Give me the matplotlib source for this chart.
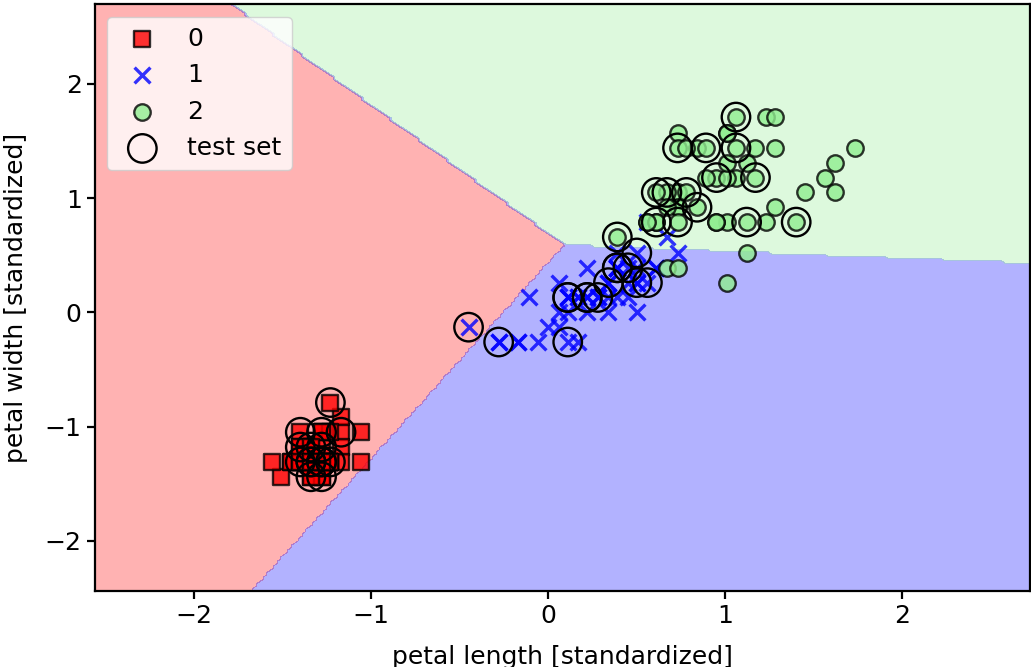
import numpy as np
import matplotlib
matplotlib.use('Agg')
import matplotlib.pyplot as plt
from matplotlib.colors import ListedColormap

# standardized petal length / petal width per class
x0 = [-1.34, -1.34, -1.40, -1.28, -1.34, -1.17, -1.34, -1.28, -1.34, -1.28,
      -1.28, -1.23, -1.34, -1.51, -1.45, -1.28, -1.40, -1.34, -1.17, -1.28,
      -1.17, -1.28, -1.56, -1.17, -1.06, -1.23, -1.23, -1.28, -1.34, -1.23,
      -1.23, -1.28, -1.28, -1.34, -1.28, -1.45, -1.40, -1.34, -1.40, -1.28,
      -1.40, -1.40, -1.40, -1.23, -1.06, -1.34, -1.23, -1.34, -1.28, -1.34]
y0 = [-1.31, -1.31, -1.31, -1.31, -1.31, -1.05, -1.18, -1.31, -1.31, -1.44,
      -1.31, -1.31, -1.44, -1.44, -1.31, -1.05, -1.05, -1.18, -1.18, -1.18,
      -1.31, -1.05, -1.31, -0.92, -1.31, -1.31, -1.05, -1.31, -1.31, -1.31,
      -1.31, -1.05, -1.44, -1.31, -1.31, -1.31, -1.31, -1.44, -1.31, -1.31,
      -1.18, -1.18, -1.31, -0.79, -1.05, -1.18, -1.31, -1.31, -1.31, -1.31]

x1 = [0.50, 0.39, 0.61, 0.11, 0.45, 0.39, 0.50, -0.28, 0.45, 0.06,
      -0.17, 0.22, 0.11, 0.50, -0.11, 0.34, 0.39, 0.17, 0.39, 0.06,
      0.56, 0.11, 0.61, 0.50, 0.28, 0.34, 0.56, 0.67, 0.39, -0.17,
      0.00, -0.06, 0.06, 0.73, 0.39, 0.39, 0.50, 0.34, 0.17, 0.11,
      0.34, 0.45, 0.11, -0.28, 0.22, 0.22, 0.22, 0.28, -0.45, 0.17]
y1 = [0.26, 0.39, 0.39, 0.13, 0.39, 0.13, 0.52, -0.26, 0.13, 0.26,
      -0.26, 0.39, -0.26, 0.26, 0.13, 0.26, 0.39, -0.26, 0.39, -0.13,
      0.79, 0.13, 0.39, 0.00, 0.13, 0.26, 0.26, 0.66, 0.39, -0.26,
      -0.13, -0.26, 0.00, 0.52, 0.39, 0.52, 0.39, 0.13, 0.13, 0.13,
      0.00, 0.26, 0.00, -0.26, 0.13, 0.00, 0.13, 0.13, -0.13, 0.13]

x2 = [1.23, 0.73, 1.17, 1.01, 1.12, 1.56, 0.39, 1.40, 1.12, 1.28,
      0.73, 0.84, 0.95, 0.67, 0.73, 0.84, 0.95, 1.62, 1.73, 0.67,
      1.06, 0.61, 1.62, 0.61, 1.06, 1.23, 0.56, 0.61, 1.01, 1.12,
      1.28, 1.45, 1.01, 0.73, 1.01, 1.28, 1.01, 0.95, 0.56, 0.89,
      1.01, 0.73, 0.73, 1.17, 1.06, 0.78, 0.67, 0.78, 0.89, 0.73]
y2 = [1.71, 0.92, 1.18, 0.79, 1.31, 1.18, 0.66, 0.79, 0.79, 1.71,
      1.05, 0.92, 1.18, 1.05, 1.57, 1.44, 0.79, 1.31, 1.44, 0.39,
      1.44, 1.05, 1.05, 0.79, 1.18, 0.79, 0.79, 0.79, 1.18, 0.52,
      0.92, 1.05, 1.31, 0.39, 0.26, 1.44, 1.57, 0.79, 0.79, 1.18,
      1.57, 1.44, 0.92, 1.44, 1.71, 1.44, 0.92, 1.05, 1.44, 0.79]

# test samples
xt = [-1.23, -1.40, -1.28, -1.17, -1.34, -1.28, -1.40, -1.40, -1.34, -1.28,
      -1.23, -1.34, -1.28, -1.34, -1.28,
      -0.45, -0.28, 0.11, 0.11, 0.22, 0.28, 0.34, 0.39, 0.45, 0.50,
      0.50, 0.56, 0.39, 0.11, 0.22,
      1.06, 0.73, 0.89, 1.06, 0.95, 1.17, 0.61, 0.67, 0.78, 0.84,
      0.61, 0.73, 1.12, 1.40, 0.39]
yt = [-0.79, -1.05, -1.05, -1.05, -1.18, -1.18, -1.18, -1.31, -1.31, -1.31,
      -1.31, -1.44, -1.44, -1.31, -1.31,
      -0.13, -0.26, -0.26, 0.13, 0.13, 0.13, 0.26, 0.39, 0.39, 0.52,
      0.26, 0.26, 0.39, 0.13, 0.13,
      1.71, 1.44, 1.44, 1.44, 1.18, 1.18, 1.05, 1.05, 1.05, 0.92,
      0.79, 0.79, 0.79, 0.79, 0.66]

# linear class scores (one row per class)
coef = np.array([[-3.03, 1.765], [0.0, 0.0], [0.286, 4.72]])
intercept = np.array([-0.769, 0.0, -2.811])

markers = ('s', 'x', 'o')
colors = ('red', 'blue', 'lightgreen')
cmap = ListedColormap(colors)

X = np.array([x0 + x1 + x2, y0 + y1 + y2]).T
x1_min, x1_max = X[:, 0].min() - 1, X[:, 0].max() + 1
x2_min, x2_max = X[:, 1].min() - 1, X[:, 1].max() + 1
xx1, xx2 = np.meshgrid(np.arange(x1_min, x1_max, 0.02),
                       np.arange(x2_min, x2_max, 0.02))
grid = np.array([xx1.ravel(), xx2.ravel()]).T
Z = np.argmax(grid @ coef.T + intercept, axis=1).reshape(xx1.shape)

plt.rcParams['font.size'] = 18
plt.rcParams['axes.linewidth'] = 1.6
plt.rcParams['xtick.major.width'] = 1.6
plt.rcParams['ytick.major.width'] = 1.6
plt.rcParams['xtick.major.size'] = 6
plt.rcParams['ytick.major.size'] = 6

fig = plt.figure(figsize=(10.31, 6.67), dpi=100)
ax = fig.add_axes([0.092, 0.114, 0.907, 0.880])
ax.contourf(xx1, xx2, Z, levels=[-0.5, 0.5, 1.5, 2.5], alpha=0.3, cmap=cmap)
ax.set_xlim(xx1.min(), xx1.max())
ax.set_ylim(xx2.min(), xx2.max())

pts = [(x0, y0), (x1, y1), (x2, y2)]
for idx, (xs, ys) in enumerate(pts):
    if markers[idx] == 'x':
        ax.scatter(xs, ys, alpha=0.8, c=colors[idx], marker='x', s=130,
                   linewidths=2.4, label=str(idx))
    else:
        ax.scatter(xs, ys, alpha=0.8, c=colors[idx], marker=markers[idx],
                   s=140, edgecolor='black', linewidths=1.7, label=str(idx))

ax.scatter(xt, yt, facecolor='none', edgecolor='black', alpha=1.0,
           linewidths=1.7, marker='o', s=420, label='test set')

ax.set_xlabel('petal length [standardized]', labelpad=12)
ax.set_ylabel('petal width [standardized]', labelpad=12)
ax.legend(loc='upper left', borderaxespad=0.5)
fig.savefig('out.png', dpi=100)
